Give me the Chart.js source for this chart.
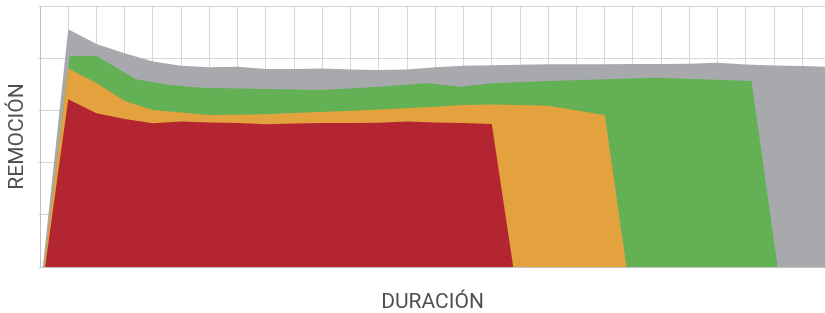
<!DOCTYPE html>
<html lang="es">
<head>
    <meta charset="UTF-8">
    <title>Remoción / Duración</title>
    <script src="https://cdn.jsdelivr.net/npm/chart.js"></script>
    <style>
        body {
            margin: 0;
            padding: 0;
            background-color: #ffffff;
        }

        .chart-container {
            width: 825px;
            height: 313px;
        }
    </style>
</head>
<body>
    <div class="chart-container">
        <canvas id="remocionChart" width="825" height="313"></canvas>
    </div>

    <script>
        // x = position along the duration axis (one unit per grid column), y = removal (0-100)
        const grayX = [0.1, 1, 2, 3, 4, 5, 6, 7, 8, 9, 10, 11, 12, 13, 14, 15, 16, 17, 18, 19, 20, 21, 22, 23, 24, 25, 26, 27, 28];
        const grayY = [0, 91.1, 85.4, 81.9, 78.7, 77.1, 76.5, 76.7, 75.9, 75.9, 76.1, 75.7, 75.5, 75.7, 76.5, 77.1, 77.3, 77.5, 77.7, 77.7, 77.7, 77.8, 77.8, 77.9, 78.3, 77.6, 77.2, 77.0, 76.6];

        const greenX = [0.14, 1.05, 2, 3.4, 4.6, 5.7, 8.5, 10, 12, 13.7, 14.9, 16, 18, 21.8, 25.2, 26.12];
        const greenY = [0, 80.8, 80.8, 71.9, 69.7, 68.7, 68.1, 67.8, 69.1, 70.4, 69.1, 70.4, 71.3, 72.5, 71.3, 0];

        const orangeX = [0.14, 1, 2, 3, 4, 6, 8, 9, 11.7, 14, 15, 16, 18, 20, 20.77];
        const orangeY = [0, 76.1, 70.5, 63.6, 60.2, 58.2, 58.5, 59, 60.2, 61.4, 62.1, 62.3, 61.8, 58.2, 0];

        const redX = [0.18, 1, 2, 3, 4, 5, 6, 7, 8, 9, 10, 11, 12, 13, 14, 15, 16, 16.76];
        const redY = [0, 64.3, 58.9, 56.7, 55.1, 55.7, 55.4, 55.2, 54.7, 55.0, 55.2, 55.2, 55.3, 55.7, 55.4, 55.2, 54.8, 0];

        const xTitle = 'DURACIÓN';
        const yTitle = 'REMOCIÓN';

        function toPoints(xs, ys) {
            return xs.map((x, i) => ({ x: x, y: ys[i] }));
        }

        function area(points, color) {
            return {
                data: points,
                backgroundColor: color,
                borderWidth: 0,
                pointRadius: 0,
                tension: 0,
                fill: 'origin'
            };
        }

        const titleFont = { family: 'Roboto', size: 21, weight: '400' };

        const ctx = document.getElementById('remocionChart').getContext('2d');
        const remocionChart = new Chart(ctx, {
            type: 'line',
            data: {
                // first dataset is painted on top
                datasets: [
                    area(toPoints(redX, redY), '#b32631'),
                    area(toPoints(orangeX, orangeY), '#e3a23d'),
                    area(toPoints(greenX, greenY), '#63b055'),
                    area(toPoints(grayX, grayY), '#a8a9ad')
                ]
            },
            options: {
                responsive: false,
                animation: false,
                layout: {
                    padding: { top: 6, right: 0, bottom: 0, left: 0 }
                },
                scales: {
                    x: {
                        type: 'linear',
                        min: 0,
                        max: 27.8,
                        ticks: {
                            display: false,
                            stepSize: 1,
                            includeBounds: false
                        },
                        grid: {
                            color: '#d6d6d6',
                            drawTicks: false
                        },
                        border: { color: '#c2c2c2' },
                        title: {
                            display: true,
                            text: xTitle,
                            color: '#505050',
                            font: titleFont,
                            padding: { top: 22.8, bottom: -2 }
                        }
                    },
                    y: {
                        min: 0,
                        max: 100,
                        ticks: {
                            display: false,
                            stepSize: 20
                        },
                        grid: {
                            color: '#d6d6d6',
                            tickLength: 2
                        },
                        border: { color: '#c2c2c2' },
                        title: {
                            display: true,
                            text: yTitle,
                            color: '#505050',
                            font: titleFont,
                            padding: { top: 5.4, bottom: 7.4 }
                        }
                    }
                },
                plugins: {
                    legend: { display: false },
                    tooltip: { enabled: false }
                }
            }
        });
    </script>
</body>
</html>
